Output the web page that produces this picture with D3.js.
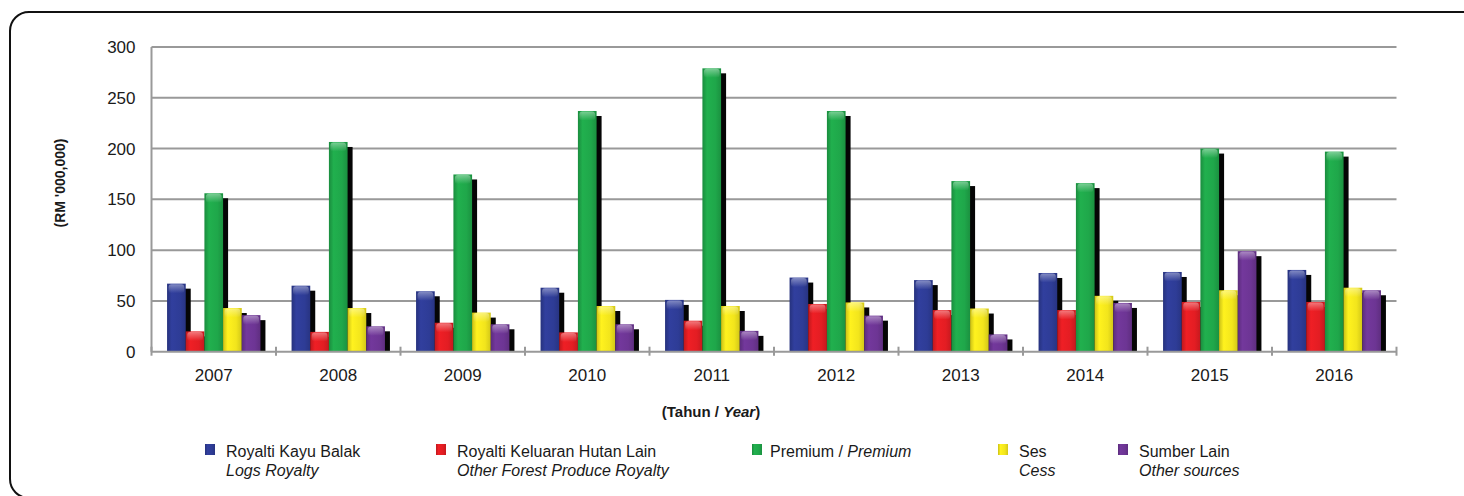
<!DOCTYPE html>
<html>
<head>
<meta charset="utf-8">
<script src="https://cdn.jsdelivr.net/npm/d3@7"></script>
<style>
    body { margin: 0; background: #fff; }
    svg { display: block; font-family: "Liberation Sans", Arial, sans-serif; }
</style>
</head>
<body>
<svg id="chart" width="1464" height="496"></svg>
<script>
// values (RM '000,000)
var years = ["2007", "2008", "2009", "2010", "2011", "2012", "2013", "2014", "2015", "2016"];
var logsRoyalty = [67, 65, 59.5, 63, 51, 73, 70.5, 77.5, 78.5, 80.5];
var otherForestRoyalty = [20, 19.5, 28.5, 19, 30.5, 47, 41, 41, 49, 49];
var premium = [156, 206.5, 174.5, 237, 279, 237, 168, 166, 200, 197];
var cess = [43, 43, 38.5, 45, 45, 48.5, 42.5, 55, 60.5, 63];
var otherSources = [36, 25, 27, 27, 20.5, 35.5, 17, 48, 99, 60.5];
var yTicks = [0, 50, 100, 150, 200, 250, 300];

var series = [
    {key: "logs", values: logsRoyalty, color: "#2e3c96", malay: "Royalti Kayu Balak", english: "Logs Royalty"},
    {key: "forest", values: otherForestRoyalty, color: "#e31d23", malay: "Royalti Keluaran Hutan Lain", english: "Other Forest Produce Royalty"},
    {key: "premium", values: premium, color: "#1fa74a", malay: "Premium / ", english: "Premium", oneLine: true},
    {key: "cess", values: cess, color: "#f2e51c", malay: "Ses", english: "Cess"},
    {key: "other", values: otherSources, color: "#6d3594", malay: "Sumber Lain", english: "Other sources"}
];

var svg = d3.select("#chart");
var defs = svg.append("defs");

// horizontal shading so the bars look a bit rounded
series.forEach(function (s) {
    var c = d3.color(s.color);
    var g = defs.append("linearGradient").attr("id", "grad-" + s.key)
        .attr("x1", "0%").attr("x2", "100%").attr("y1", "0%").attr("y2", "0%");
    g.append("stop").attr("offset", "0%").attr("stop-color", c.darker(0.5));
    g.append("stop").attr("offset", "25%").attr("stop-color", c.brighter(0.15));
    g.append("stop").attr("offset", "70%").attr("stop-color", s.color);
    g.append("stop").attr("offset", "100%").attr("stop-color", c.darker(0.4));
});

// soft white fade for the top of each bar
var capGrad = defs.append("linearGradient").attr("id", "cap")
    .attr("x1", "0%").attr("x2", "0%").attr("y1", "0%").attr("y2", "100%");
capGrad.append("stop").attr("offset", "0%").attr("stop-color", "#fff").attr("stop-opacity", 0.4);
capGrad.append("stop").attr("offset", "100%").attr("stop-color", "#fff").attr("stop-opacity", 0);

// frame round the whole thing
svg.append("rect")
    .attr("x", 10).attr("y", 12)
    .attr("width", 1520).attr("height", 486)
    .attr("rx", 19).attr("ry", 19)
    .attr("fill", "none").attr("stroke", "#111").attr("stroke-width", 2);

// NB: "top" is taken by window.top, so plot* names
var plotLeft = 151.5, plotRight = 1396.5, plotTop = 47, plotBottom = 351.7;

var y = d3.scaleLinear().domain([0, 300]).range([plotBottom, plotTop]);

var x0 = d3.scaleBand().domain(years).range([plotLeft, plotRight])
    .paddingInner(0.25).paddingOuter(0.125);
var x1 = d3.scaleBand().domain(series.map(function (s) { return s.key; }))
    .range([0, x0.bandwidth()]);

// grid lines
svg.append("g").selectAll("line")
    .data(yTicks.slice(1))
    .enter().append("line")
    .attr("x1", plotLeft).attr("x2", plotRight)
    .attr("y1", function (d) { return y(d); })
    .attr("y2", function (d) { return y(d); })
    .attr("stroke", "#999").attr("stroke-width", 2);

// y axis labels
var yAxis = svg.append("g")
    .attr("transform", "translate(" + plotLeft + ",0)")
    .call(d3.axisLeft(y).tickValues(yTicks).tickSize(0).tickPadding(16));
yAxis.select(".domain").remove();
yAxis.selectAll("text").attr("font-size", 17).attr("fill", "#1a1a1a")
    .attr("font-family", "Liberation Sans, Arial, sans-serif");

svg.append("line")
    .attr("x1", plotLeft).attr("x2", plotLeft)
    .attr("y1", plotTop).attr("y2", plotBottom)
    .attr("stroke", "#999").attr("stroke-width", 2);

// bars, shadow first then the bar itself
var step = x0.step();
series.forEach(function (s) {
    var g = svg.append("g").attr("class", "series-" + s.key);
    var bw = x1.bandwidth();

    g.selectAll("rect.shadow")
        .data(s.values)
        .enter().append("rect")
        .attr("class", "shadow")
        .attr("x", function (d, i) { return x0(years[i]) + x1(s.key) + 5; })
        .attr("y", function (d) { return y(d) + 5; })
        .attr("width", bw)
        .attr("height", function (d) { return Math.max(0, plotBottom - y(d) - 5); })
        .attr("fill", "#050505");

    g.selectAll("rect.bar")
        .data(s.values)
        .enter().append("rect")
        .attr("class", "bar")
        .attr("x", function (d, i) { return x0(years[i]) + x1(s.key); })
        .attr("y", function (d) { return y(d); })
        .attr("width", bw)
        .attr("height", function (d) { return plotBottom - y(d); })
        .attr("fill", "url(#grad-" + s.key + ")");

    // glossy cap on top
    g.selectAll("rect.cap")
        .data(s.values)
        .enter().append("rect")
        .attr("class", "cap")
        .attr("x", function (d, i) { return x0(years[i]) + x1(s.key) + 1.5; })
        .attr("y", function (d) { return y(d) + 0.5; })
        .attr("width", bw - 3)
        .attr("height", 9)
        .attr("rx", 3)
        .attr("fill", "url(#cap)");
});

// x axis line, ticks between years and the labels
svg.append("line")
    .attr("x1", plotLeft).attr("x2", plotRight)
    .attr("y1", plotBottom).attr("y2", plotBottom)
    .attr("stroke", "#999").attr("stroke-width", 2);

var boundaries = years.map(function (d) { return x0(d) - step * x0.paddingInner() / 2; });
boundaries.push(plotRight);
svg.append("g").selectAll("line")
    .data(boundaries)
    .enter().append("line")
    .attr("x1", function (d) { return d; }).attr("x2", function (d) { return d; })
    .attr("y1", plotBottom - 5).attr("y2", plotBottom + 4)
    .attr("stroke", "#999").attr("stroke-width", 2);

svg.append("g").selectAll("text")
    .data(years)
    .enter().append("text")
    .attr("x", function (d) { return x0(d) + x0.bandwidth() / 2; })
    .attr("y", 381)
    .attr("text-anchor", "middle")
    .attr("font-size", 17).attr("fill", "#1a1a1a")
    .text(function (d) { return d; });

// axis titles
var xt = svg.append("text")
    .attr("x", 711).attr("y", 417)
    .attr("text-anchor", "middle")
    .attr("font-size", 15).attr("font-weight", "bold").attr("fill", "#1a1a1a");
xt.append("tspan").text("(Tahun / ");
xt.append("tspan").attr("font-style", "italic").text("Year");
xt.append("tspan").text(")");

svg.append("text")
    .attr("transform", "translate(65,183) rotate(-90)")
    .attr("text-anchor", "middle")
    .attr("font-size", 14).attr("font-weight", "bold").attr("fill", "#1a1a1a")
    .text("(RM '000,000)");

// legend
var legendX = [205, 436, 752, 998, 1118];
var legend = svg.append("g").selectAll("g")
    .data(series)
    .enter().append("g")
    .attr("transform", function (d, i) { return "translate(" + legendX[i] + ",0)"; });

legend.append("rect")
    .attr("x", 0).attr("y", 444)
    .attr("width", 10).attr("height", 11)
    .attr("fill", function (d) { return "url(#grad-" + d.key + ")"; });

legend.each(function (d) {
    var g = d3.select(this);
    if (d.oneLine) {
        var t = g.append("text").attr("x", 18).attr("y", 457)
            .attr("font-size", 16).attr("fill", "#1a1a1a");
        t.append("tspan").text(d.malay);
        t.append("tspan").attr("font-style", "italic").text(d.english);
    } else {
        g.append("text").attr("x", 21).attr("y", 457)
            .attr("font-size", 16).attr("fill", "#1a1a1a").text(d.malay);
        g.append("text").attr("x", 21).attr("y", 476)
            .attr("font-size", 16).attr("font-style", "italic").attr("fill", "#1a1a1a").text(d.english);
    }
});
</script>
</body>
</html>
